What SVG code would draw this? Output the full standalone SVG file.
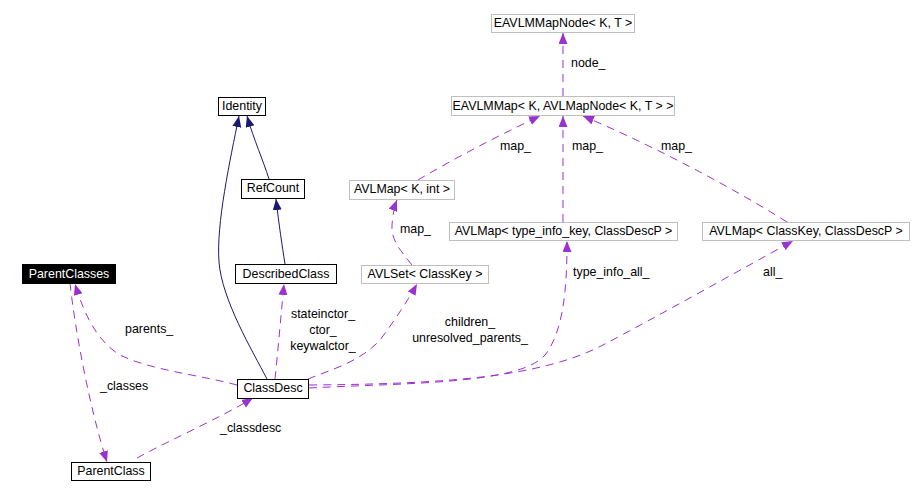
<svg xmlns="http://www.w3.org/2000/svg" width="924" height="494" viewBox="0 0 924 494">
<defs>
<style>
text{font-family:"Liberation Sans",Arial,sans-serif;font-size:12.4px;fill:#000}
.n rect{fill:#fff;stroke:#000;stroke-width:1}
.g rect{fill:#fff;stroke:#bfbfbf;stroke-width:1}
.b rect{fill:#000;stroke:#000}
.b text{fill:#fff}
.c{text-anchor:middle}
.inh{fill:none;stroke:#191970;stroke-width:1;marker-end:url(#ah)}
.use{fill:none;stroke:#9a32cd;stroke-width:1;stroke-dasharray:8,6;marker-end:url(#ap)}
</style>
<marker id="ah" markerUnits="userSpaceOnUse" markerWidth="12" markerHeight="10" refX="11" refY="4.5" orient="auto"><path d="M0,0 L11,4.5 L0,9 z" fill="#191970"/></marker>
<marker id="ap" markerUnits="userSpaceOnUse" markerWidth="12" markerHeight="10" refX="11" refY="4.5" orient="auto"><path d="M0,0 L11,4.5 L0,9 z" fill="#9a32cd"/></marker>
</defs>
<rect width="924" height="494" fill="#fff"/>
<g id="edges">
<path class="inh" d="M267,379 C252,350 222,300 219,262 C216,225 230,160 239,116"/>
<path class="inh" d="M269,179 C263,160 254,140 247,116"/>
<path class="inh" d="M285,264 C282,245 279,225 276,199"/>
<path class="use" d="M275,379 C278,350 281,315 284,284"/>
<path class="use" d="M237,385 C200,375 150,370 120,355 C95,340 83,310 75,284"/>
<path class="use" d="M70,283 C75,330 90,410 107,462"/>
<path class="use" d="M137,458 C170,440 220,418 253,398"/>
<path class="use" d="M308,379 C330,370 360,362 380,340 C395,320 408,300 417,284"/>
<path class="use" d="M309,388 C400,383 520,385 545,355 C565,330 567,280 567,241"/>
<path class="use" d="M309,385 C440,384 540,378 603,345 C660,315 740,270 793,241"/>
<path class="use" d="M412,265 C400,250 391,240 392,225 C393,212 395,205 397,200"/>
<path class="use" d="M418,180 C460,155 510,130 540,116"/>
<path class="use" d="M563,222 L563,116"/>
<path class="use" d="M787,222 C720,180 640,140 583,116"/>
<path class="use" d="M563,96 L563,33"/>
<text x="125" y="333">parents_</text>
<text x="100" y="390">_classes</text>
<text x="220" y="432">_classdesc</text>
<text class="c" x="323" y="318">stateinctor_</text>
<text class="c" x="323" y="334">ctor_</text>
<text class="c" x="323" y="350">keywalctor_</text>
<text class="c" x="470" y="326">children_</text>
<text class="c" x="470" y="342">unresolved_parents_</text>
<text x="573" y="276">type_info_all_</text>
<text x="763" y="276">all_</text>
<text x="400" y="233">map_</text>
<text x="500" y="150">map_</text>
<text x="572" y="150">map_</text>
<text x="661" y="150">map_</text>
<text x="571" y="67">node_</text>
</g>
<g id="ParentClasses" class="b"><rect x="22.5" y="264.5" width="93" height="19"/><text class="c" x="69" y="278">ParentClasses</text></g>
<g id="ParentClass" class="n"><rect x="71.5" y="462.5" width="79" height="18"/><text class="c" x="111" y="475">ParentClass</text></g>
<g id="ClassDesc" class="n"><rect x="237.5" y="379.5" width="71" height="19"/><text class="c" x="273" y="392">ClassDesc</text></g>
<g id="DescribedClass" class="n"><rect x="235.5" y="264.5" width="101" height="19"/><text class="c" x="286" y="278">DescribedClass</text></g>
<g id="Identity" class="n"><rect x="218.5" y="97.5" width="47" height="18"/><text class="c" x="242" y="110">Identity</text></g>
<g id="RefCount" class="n"><rect x="241.5" y="179.5" width="63" height="19"/><text class="c" x="273" y="192">RefCount</text></g>
<g id="AVLMapKint" class="g"><rect x="349.5" y="180.5" width="105" height="19"/><text class="c" x="402" y="193">AVLMap&lt; K, int &gt;</text></g>
<g id="AVLSetClassKey" class="g"><rect x="361.5" y="265.5" width="127" height="18"/><text class="c" x="425" y="278">AVLSet&lt; ClassKey &gt;</text></g>
<g id="AVLMapTypeInfo" class="g"><rect x="449.5" y="222.5" width="228" height="18"/><text class="c" x="563.5" y="235">AVLMap&lt; type_info_key, ClassDescP &gt;</text></g>
<g id="AVLMapClassKey" class="g"><rect x="702.5" y="222.5" width="207" height="18"/><text class="c" x="806" y="235">AVLMap&lt; ClassKey, ClassDescP &gt;</text></g>
<g id="EAVLMMapNode" class="g"><rect x="491.5" y="14.5" width="143" height="18"/><text class="c" x="563" y="27">EAVLMMapNode&lt; K, T &gt;</text></g>
<g id="EAVLMMap" class="g"><rect x="451.5" y="96.5" width="223" height="19"/><text class="c" x="563" y="110">EAVLMMap&lt; K, AVLMapNode&lt; K, T &gt; &gt;</text></g>
</svg>
